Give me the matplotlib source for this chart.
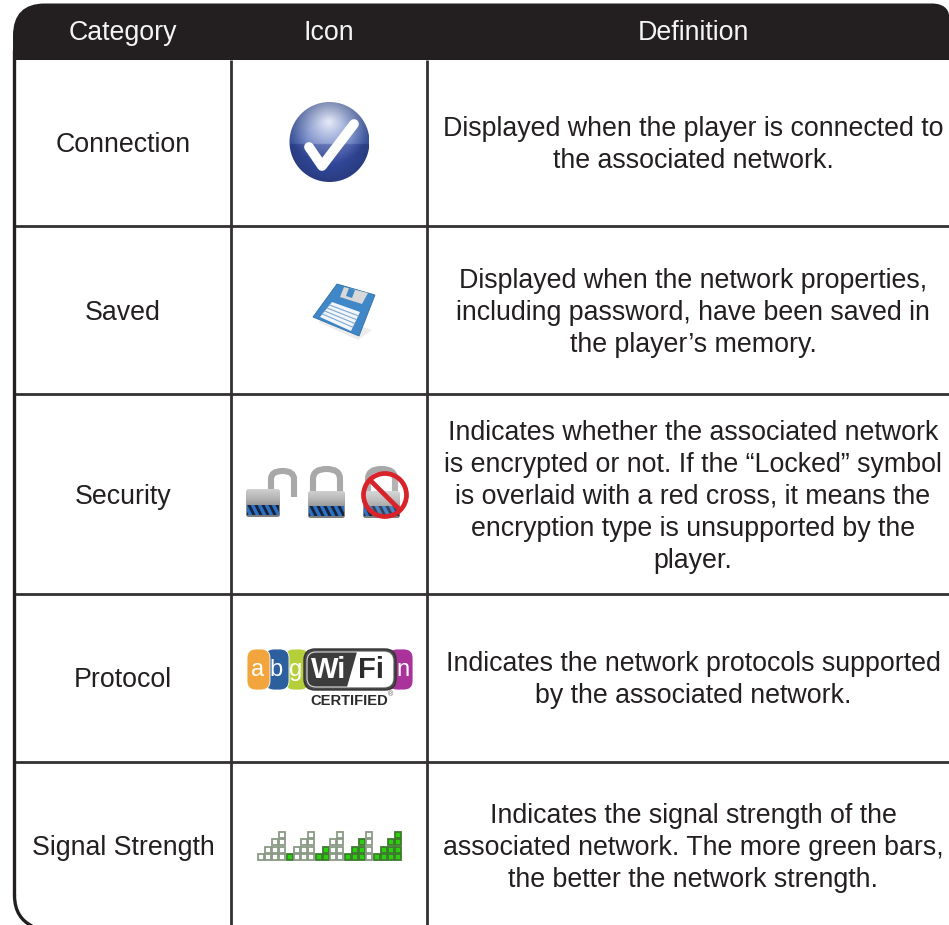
"""Wireless network icon table, drawn in pixel coordinates on one full-figure axes."""
import numpy as np
import matplotlib
matplotlib.use("Agg")
import matplotlib.pyplot as plt
from matplotlib.patches import Circle, FancyBboxPatch, PathPatch, Polygon, Rectangle
from matplotlib.path import Path

plt.rcParams["font.family"] = ["Liberation Sans", "DejaVu Sans"]

# ── Table content ─────────────────────────────────────────────────────────────
HEADERS = ["Category", "Icon", "Definition"]
CATEGORIES = ["Connection", "Saved", "Security", "Protocol", "Signal Strength"]
DEFINITIONS = [
    ["Displayed when the player is connected to", "the associated network."],
    ["Displayed when the network properties,", "including password, have been saved in",
     "the player’s memory."],
    ["Indicates whether the associated network", "is encrypted or not. If the “Locked” symbol",
     "is overlaid with a red cross, it means the", "encryption type is unsupported by the",
     "player."],
    ["Indicates the network protocols supported", "by the associated network."],
    ["Indicates the signal strength of the", "associated network. The more green bars,",
     "the better the network strength."],
]
# signal icon: five groups of four bars, first n bars of each group are green
SIGNAL_LEVELS = [1, 2, 3, 4]
GREEN_BARS = [0, 1, 2, 3, 4]
WIFI_LETTERS = ["a", "b", "g", "n"]
WIFI_COLORS = ["#f2a53c", "#2c5f9e", "#b5cf3a", "#a9329b"]

# ── Layout (pixels) ───────────────────────────────────────────────────────────
W, H = 949, 925
DARK = "#231f20"
COL_X = [123, 329, 693]
COL_LINES = [231, 427]
ROW_LINES = [226, 394, 594, 762]
ROW_CENTERS = [143, 311, 495, 678, 846]
LINE_STEP = 32
FONT = 19.3
TEXT_DY = 1.8

fig = plt.figure(figsize=(W / 100, H / 100), dpi=100)
ax = fig.add_axes([0, 0, 1, 1])
ax.set_xlim(0, W)
ax.set_ylim(H, 0)
ax.axis("off")


def gradient(box, colors, clip=None, vertical=True, zorder=3):
    """Fill box (x0, y0, x1, y1) with a linear gradient, clipped to a patch."""
    cols = np.array([matplotlib.colors.to_rgb(c) for c in colors])
    t = np.linspace(0, len(cols) - 1, 64)
    arr = np.stack([np.interp(t, np.arange(len(cols)), cols[:, i]) for i in range(3)], axis=-1)
    arr = arr[:, None, :] if vertical else arr[None, :, :]
    im = ax.imshow(arr, extent=(box[0], box[2], box[3], box[1]), aspect="auto",
                   interpolation="bilinear", zorder=zorder)
    if clip is not None:
        im.set_clip_path(clip)
    return im


def rounded(x0, y0, x1, y1, r, **kw):
    p = FancyBboxPatch((x0 + r, y0 + r), x1 - x0 - 2 * r, y1 - y0 - 2 * r,
                       boxstyle=f"round,pad={r},rounding_size={r}", **kw)
    ax.add_patch(p)
    return p


# ── Frame ─────────────────────────────────────────────────────────────────────
header = Path(
    [(13, 60), (13, 36), (13, 14), (24, 3.5), (45, 3.5), (932, 3.5), (943, 3.5), (949, 9),
     (949, 16), (949, 60), (13, 60)],
    [Path.MOVETO, Path.LINETO, Path.CURVE4, Path.CURVE4, Path.CURVE4, Path.LINETO,
     Path.CURVE4, Path.CURVE4, Path.CURVE4, Path.LINETO, Path.CLOSEPOLY])
ax.add_patch(PathPatch(header, fc=DARK, ec="none", zorder=2))
ax.plot([14.5, 14.5], [50, 895], color=DARK, lw=2.4, zorder=2, solid_capstyle="butt")
corner = Path([(14.5, 895), (14.5, 912), (22, 921), (32, 926)],
              [Path.MOVETO, Path.CURVE4, Path.CURVE4, Path.CURVE4])
ax.add_patch(PathPatch(corner, fc="none", ec=DARK, lw=2.4, zorder=2))
for x in COL_LINES:
    ax.plot([x, x], [60, H], color="#333031", lw=2.0, zorder=1, solid_capstyle="butt")
for y in ROW_LINES:
    ax.plot([14, W], [y, y], color="#333031", lw=2.0, zorder=1, solid_capstyle="butt")

# ── Text ──────────────────────────────────────────────────────────────────────
for x, label in zip(COL_X, HEADERS):
    ax.text(x, 31 + TEXT_DY, label, color="#f4f4f4", fontsize=FONT, ha="center", va="center",
            zorder=4)
for yc, cat, lines in zip(ROW_CENTERS, CATEGORIES, DEFINITIONS):
    ax.text(COL_X[0], yc + TEXT_DY, cat, color=DARK, fontsize=FONT, ha="center", va="center")
    first = yc - LINE_STEP * (len(lines) - 1) / 2 + TEXT_DY
    for i, line in enumerate(lines):
        ax.text(COL_X[2], first + i * LINE_STEP, line, color=DARK, fontsize=FONT,
                ha="center", va="center")

# ── Connection icon ───────────────────────────────────────────────────────────
ball = Circle((329.5, 142), 40, fc="none", ec="none")
ax.add_patch(ball)
gy, gx = np.mgrid[-1:1:160j, -1:1:160j]
shade = np.clip(1 - np.hypot(gx, gy + 0.5) / 1.05, 0, 1)[..., None]
dim = np.clip(np.hypot(gx, gy) - 0.55, 0, 1)[..., None]
rgb = np.array([0.27, 0.38, 0.70]) * (1 - shade) + np.array([0.90, 0.92, 0.97]) * shade
rgb = rgb * (1 - 0.35 * dim)
rgb[gy > 0.05] = (rgb[gy > 0.05] * np.array([0.72, 0.74, 0.86]))
im = ax.imshow(rgb, extent=(289.5, 369.5, 182, 102), interpolation="bilinear", zorder=3)
im.set_clip_path(ball)
ax.plot([309, 322, 354], [147, 166, 124], color="white", lw=7.0, zorder=4,
        solid_capstyle="round", solid_joinstyle="round")

# ── Saved icon ────────────────────────────────────────────────────────────────
ax.add_patch(Polygon([(318, 322), (358, 340), (372, 330), (330, 316)], fc="#c9c9c9",
                     ec="none", alpha=0.35, zorder=3))
ax.add_patch(Polygon([(337, 284), (375, 295), (359, 336), (313, 317)], fc="#3f87c6",
                     ec="#2f6fa8", lw=0.6, zorder=4))
ax.add_patch(Polygon([(344, 287), (368, 293), (362, 304), (340, 297)], fc="#d8d8d8",
                     ec="none", zorder=5))
ax.add_patch(Polygon([(349, 288), (355, 290), (352, 298), (346, 296)], fc="#3f87c6",
                     ec="none", zorder=6))
label_quad = np.array([(332, 302), (360, 312), (351, 331), (320, 317)], float)
ax.add_patch(Polygon(label_quad, fc="#f2f6fb", ec="none", zorder=5))
for t in (0.2, 0.4, 0.6, 0.8):
    a = label_quad[0] + t * (label_quad[3] - label_quad[0])
    b = label_quad[1] + t * (label_quad[2] - label_quad[1])
    ax.plot([a[0], b[0]], [a[1], b[1]], color="#7fa8d2", lw=0.8, zorder=6)


# ── Security icons ────────────────────────────────────────────────────────────
def lock(x0, x1, y0, y1, top, opened=False):
    xa, xb = x0 + 5, x1 - 5
    if opened:
        xa, xb = x1 - 9, x1 + 14
        sh = Path([(xa, y0 + 2), (xa, top + 8), (xa, top), ((xa + xb) / 2, top),
                   (xb, top), (xb, top + 8), (xb, y0 + 8)],
                  [Path.MOVETO, Path.LINETO, Path.CURVE3, Path.CURVE3, Path.CURVE3,
                   Path.CURVE3, Path.LINETO])
    else:
        sh = Path([(xa, y0 + 2), (xa, top + 10), (xa, top), ((xa + xb) / 2, top),
                   (xb, top), (xb, top + 10), (xb, y0 + 2)],
                  [Path.MOVETO, Path.LINETO, Path.CURVE3, Path.CURVE3, Path.CURVE3,
                   Path.LINETO, Path.LINETO])
    ax.add_patch(PathPatch(sh, fc="none", ec="#a8a8a8", lw=4.4, zorder=3))
    body = rounded(x0, y0, x1, y1, 2.5, fc="none", ec="none", zorder=4)
    gradient((x0, y0, x1, y1), ["#d0d0d0", "#b4b4b4", "#8f8f8f", "#7d7d7d"],
             clip=body, vertical=True, zorder=4)
    band = Rectangle((x0 + 1, y1 - 12), x1 - x0 - 2, 10, fc="#2d6fc0", ec="none", zorder=5)
    ax.add_patch(band)
    for sx in np.arange(x0 - 4, x1 + 4, 7):
        st = ax.plot([sx, sx + 5], [y1 - 12, y1 - 2], color="#16233a", lw=2.0, zorder=6)[0]
        st.set_clip_path(band)


lock(246, 280, 489, 517, 471, opened=True)
lock(308, 345, 491, 518, 469)
lock(363, 400, 491, 518, 469)
ax.add_patch(Circle((385, 495), 21.5, fc=(1, 1, 1, 0.15), ec="#d8232a", lw=3.4, zorder=7))
ax.plot([370, 400], [480, 510], color="#d8232a", lw=3.4, zorder=7, solid_capstyle="butt")

# ── Protocol icon ─────────────────────────────────────────────────────────────
pill_x = [(247, 270), (265, 289), (285, 309), (388, 413)]
for i in [3, 2, 1, 0]:
    p0, p1 = pill_x[i]
    z = 3 + (3 - i) * 0.1 if i < 3 else 3
    rounded(p0, 649, p1, 690, 9, fc=WIFI_COLORS[i], ec="white", lw=0.6, zorder=z)
    tx = (p0 + p1) / 2 - (1 if i < 3 else -3)
    ax.text(tx, 670, WIFI_LETTERS[i], color="white", fontsize=17, ha="center",
            va="center", zorder=z + 0.05)
rounded(304, 649, 396, 690, 11, fc="#4a4a4a", ec="#333333", lw=1.0, zorder=4)
inner = rounded(307, 652, 393, 687, 9, fc="#3c3c3c", ec="#dddddd", lw=0.8, zorder=4.1)
ax.add_patch(Polygon([(347, 687), (357, 652), (394, 652), (394, 687)], fc="white",
                     ec="none", zorder=4.2, clip_path=inner))
ax.text(329, 670, "Wi", color="white", fontsize=21, fontweight="bold", ha="center",
        va="center", zorder=5)
ax.text(371, 670, "Fi", color="#2b2b2b", fontsize=21, fontweight="bold", ha="center",
        va="center", zorder=5)
ax.text(349, 701, "CERTIFIED", color="#2b2b2b", fontsize=10.6, fontweight="bold",
        ha="center", va="center", zorder=5)
ax.text(391, 695, "®", color="#555555", fontsize=5, ha="center", va="center", zorder=5)

# ── Signal strength icon ──────────────────────────────────────────────────────
SIG_LEFT, SIG_BOTTOM, SIG_W, SIG_H = 257, 861, 7.25, 7.5
for g, n_green in enumerate(GREEN_BARS):
    for b, level in enumerate(SIGNAL_LEVELS):
        x = SIG_LEFT + (g * len(SIGNAL_LEVELS) + b) * SIG_W
        green = b < n_green
        for k in range(level):
            y = SIG_BOTTOM - (k + 1) * SIG_H
            ax.add_patch(Rectangle((x + 0.7, y + 0.7), SIG_W - 1.4, SIG_H - 1.4,
                                   fc="#2ccf10" if green else "white",
                                   ec="#3d7a2e" if green else "#8a9a86", lw=1.3, zorder=3))

fig.savefig("out.png", dpi=100, facecolor="white")
